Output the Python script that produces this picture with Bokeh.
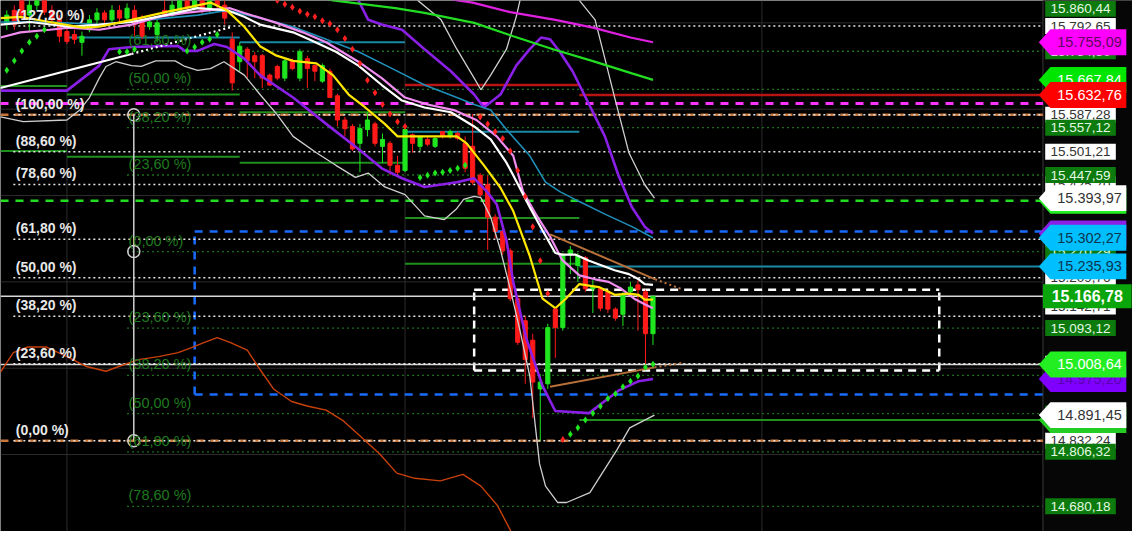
from bokeh.plotting import figure
from bokeh.models import Range1d, ColumnDataSource
from bokeh.core.properties import value
from bokeh.embed import file_html
from bokeh.resources import INLINE

# ---------------- candles (bar index = position) ----------------
bar_open = [15796, 15829, 15852, 15818, 15841, 15852, 15829, 15807, 15780, 15773,
            15755, 15784, 15807, 15823, 15807, 15829, 15811, 15829, 15807, 15791,
            15773, 15829, 15818, 15829, 15852, 15834, 15852, 15834, 15852, 15841,
            15762, 15710, 15739, 15724, 15724, 15679, 15699, 15672, 15712, 15672,
            15717, 15701, 15665, 15688, 15631, 15575, 15560, 15521, 15553, 15566,
            15514, 15521, 15470, 15458, 15541, 15514, 15530, 15514, 15548, 15537,
            15544, 15521, 15514, 15447, 15425, 15350, 15317, 15272, 15161, 15110,
            15065, 14952, 14964, 15137, 15094, 15263, 15238, 15256, 15184, 15184,
            15177, 15137, 15125, 15177, 15193, 15177, 15080]
bar_high = [15829, 15841, 15863, 15852, 15863, 15858, 15841, 15818, 15789, 15784,
            15780, 15818, 15834, 15829, 15841, 15841, 15845, 15841, 15818, 15807,
            15807, 15852, 15852, 15863, 15863, 15870, 15863, 15863, 15863, 15852,
            15778, 15755, 15744, 15733, 15728, 15683, 15703, 15717, 15717, 15739,
            15724, 15701, 15706, 15694, 15636, 15582, 15566, 15566, 15593, 15571,
            15544, 15526, 15492, 15560, 15544, 15537, 15535, 15537, 15548, 15553,
            15548, 15537, 15589, 15452, 15447, 15357, 15323, 15278, 15170, 15121,
            15080, 14986, 15103, 15141, 15267, 15283, 15267, 15260, 15204, 15188,
            15182, 15141, 15177, 15200, 15204, 15182, 15168]
bar_low = [15784, 15784, 15807, 15778, 15829, 15818, 15796, 15755, 15751, 15751,
           15724, 15778, 15796, 15796, 15802, 15802, 15807, 15769, 15762, 15784,
           15755, 15814, 15814, 15825, 15825, 15829, 15818, 15825, 15829, 15796,
           15643, 15688, 15672, 15672, 15649, 15654, 15667, 15665, 15690, 15665,
           15649, 15665, 15661, 15627, 15560, 15537, 15503, 15454, 15537, 15514,
           15476, 15447, 15447, 15454, 15499, 15503, 15514, 15510, 15532, 15532,
           15528, 15454, 15425, 15395, 15274, 15301, 15263, 15155, 15054, 14964,
           14885, 14832, 14952, 15024, 15087, 15218, 15200, 15177, 15128, 15132,
           15128, 15110, 15098, 15166, 15087, 15004, 15054]
bar_close = [15818, 15796, 15818, 15841, 15852, 15825, 15807, 15769, 15757, 15762,
             15769, 15807, 15823, 15807, 15829, 15811, 15834, 15796, 15769, 15802,
             15800, 15818, 15841, 15852, 15834, 15856, 15829, 15852, 15841, 15811,
             15661, 15746, 15712, 15710, 15672, 15656, 15672, 15712, 15694, 15733,
             15694, 15688, 15701, 15627, 15575, 15555, 15508, 15555, 15575, 15521,
             15530, 15470, 15454, 15553, 15521, 15537, 15519, 15532, 15537, 15548,
             15532, 15463, 15431, 15402, 15350, 15317, 15272, 15161, 15060, 15020,
             14968, 14968, 15094, 15094, 15263, 15274, 15260, 15184, 15188, 15139,
             15137, 15116, 15170, 15188, 15182, 15080, 15166.78]

# ---------------- indicator lines (bar, price) ----------------
yellow_x = [-0.84, 1.8, 5.7, 10.1, 12.3, 16.6, 21.1, 23.7, 27.1, 29.3, 31.6, 33.7, 35.9, 38.1, 41.2,
            43.4, 45.5, 47.7, 50.3, 52.0, 53.9, 57.3, 59.9, 61.2, 63.5, 65.7, 67.4, 69.6, 71.3, 73.0,
            74.4, 76.2, 78.8, 80.9, 82.8, 84.1, 84.9, 86.0]
yellow_y = [15811, 15814, 15802, 15789, 15791, 15807, 15825, 15834, 15847, 15829, 15791, 15746, 15724,
            15712, 15706, 15679, 15634, 15604, 15566, 15537, 15537, 15537, 15537, 15521, 15470, 15418,
            15364, 15260, 15161, 15139, 15161, 15195, 15188, 15170, 15173, 15170, 15159, 15159]
white_x = [-0.84, 3.1, 8.3, 12.3, 16.6, 21.1, 25.4, 29.3, 31.6, 33.7, 38.1, 40.2, 43.8, 46.8, 49.9,
           52.6, 55.6, 59.1, 62.2, 64.4, 66.5, 67.4, 69.6, 71.3, 73.0, 73.9, 75.7, 77.5, 79.2, 80.9,
           82.8, 84.1, 84.9, 86.0]
white_y = [15796, 15802, 15791, 15796, 15802, 15818, 15834, 15829, 15814, 15796, 15778, 15762, 15733,
           15701, 15656, 15620, 15604, 15593, 15560, 15530, 15476, 15447, 15373, 15319, 15267, 15263,
           15263, 15249, 15238, 15227, 15218, 15206, 15195, 15193]
pink_x = [-0.84, 1.8, 5.7, 8.3, 12.3, 16.6, 20.2, 23.7, 29.7, 31.6, 35.9, 39.4, 42.5, 46.8, 49.9,
          53.0, 56.0, 59.5, 62.5, 65.2, 67.4, 68.7, 70.4, 72.3, 73.9, 76.2, 78.3, 80.1, 81.8, 83.5,
          84.9, 86.0]
pink_y = [15766, 15778, 15784, 15789, 15784, 15796, 15814, 15823, 15834, 15823, 15800, 15778, 15755,
          15710, 15672, 15627, 15611, 15598, 15575, 15537, 15492, 15409, 15357, 15305, 15251, 15215,
          15206, 15200, 15184, 15161, 15148, 15139]
teal_x = [-0.84, 5.7, 12.3, 18.8, 25.4, 29.3, 33.7, 38.1, 42.5, 46.8, 51.3, 55.6, 59.9, 62.2, 64.4,
          66.5, 69.6, 71.7, 73.6, 76.2, 79.6, 83.2, 86.0]
teal_y = [15802, 15802, 15796, 15807, 15818, 15829, 15811, 15791, 15762, 15733, 15694, 15656, 15627,
          15611, 15598, 15553, 15492, 15431, 15409, 15386, 15357, 15328, 15302.27]
magenta_x = [57, 60, 62, 67, 73, 78, 83, 86]
magenta_y = [15863, 15852, 15847, 15825, 15807, 15789, 15766, 15755.09]
green_ma_x = [41.2, 43.4, 51.7, 55.6, 62.2, 67.4, 72.7, 77.9, 83.2, 86.0]
green_ma_y = [15863, 15852, 15834, 15823, 15800, 15769, 15739, 15712, 15683, 15667.84]
purple_lo_x = [-0.84, 8.0, 12.3, 13.6, 16.6, 20.2, 22.8, 23.7, 25.4, 27.6, 29.3, 31.6, 33.7, 38.1,
               42.5, 46.8, 49.9, 52.6, 55.6, 59.9, 62.2, 63.9, 65.2, 66.5, 67.4, 69.1, 71.3, 73.0,
               77.5, 79.2, 81.4, 84.1, 86.0]
purple_lo_y = [15643, 15643, 15701, 15739, 15744, 15746, 15746, 15735, 15735, 15751, 15744, 15717,
               15679, 15627, 15566, 15508, 15463, 15440, 15420, 15431, 15440, 15409, 15380, 15296,
               15200, 15071, 14959, 14901, 14896, 14919, 14948, 14970, 14975.20]
purple_up_x = [45.1, 46.8, 48.1, 49.9, 52.6, 55.6, 59.1, 62.2, 63.5, 65.7, 67.8, 69.6, 71.1, 72.3,
               73.6, 75.3, 77.5, 79.6, 81.4, 83.2, 84.9, 86.0]
purple_up_y = [15897, 15852, 15807, 15796, 15784, 15739, 15688, 15634, 15604, 15634, 15701, 15739,
               15766, 15762, 15733, 15688, 15611, 15537, 15447, 15373, 15328, 15312]
band_lo_x = [-0.84, 2.2, 8.0, 9.7, 11.0, 12.3, 13.2, 14.5, 16.6, 17.9, 19.8, 22.4, 23.7, 25.4, 27.1,
             28.9, 30.3, 31.6, 33.7, 35.9, 38.1, 41.2, 43.8, 46.4, 48.1, 50.3, 53.0, 55.6, 58.2,
             59.8, 60.8, 62.2, 63.1, 64.4, 65.7, 67.0, 68.3, 69.6, 70.9, 71.7, 73.3, 74.5, 77.6,
             81.2, 82.9, 84.7, 86.2]
band_lo_y = [15582, 15571, 15575, 15598, 15627, 15672, 15699, 15710, 15701, 15699, 15712, 15712, 15699,
             15690, 15694, 15710, 15694, 15679, 15634, 15589, 15537, 15499, 15470, 15442, 15452,
             15420, 15402, 15353, 15344, 15368, 15391, 15398, 15395, 15350, 15274, 15184, 15087,
             14982, 14779, 14727, 14689, 14689, 14712, 14811, 14862, 14878, 14891.45]
band_up_x = [53.6, 54.7, 57.8, 59.9, 62.2, 63.1, 64.4, 66.5, 67.8, 68.3, 69.0, 75.3, 76.2, 78.3,
             79.6, 80.9, 82.8, 84.9, 86.2]
band_up_y = [15897, 15852, 15807, 15739, 15672, 15645, 15679, 15739, 15814, 15852, 15886, 15886,
             15852, 15807, 15717, 15627, 15499, 15425, 15393.97]
osc_x = [-0.84, 0.87, 2.7, 5.3, 8.0, 10.6, 13.2, 14.9, 17.5, 20.2, 22.8, 24.5, 26.3, 28.0, 29.7,
         32.0, 33.7, 35.5, 37.9, 40.1, 42.5, 44.8, 47.2, 49.6, 51.9, 54.3, 57.7, 60.7, 63.1, 65.3,
         67.1, 68.1]
osc_y = [14991, 15036, 15049, 15049, 15027, 15004, 14993, 15004, 15020, 15027, 15036, 15047, 15060,
         15071, 15060, 15042, 14997, 14952, 14923, 14912, 14903, 14878, 14840, 14802, 14757, 14745,
         14739, 14754, 14727, 14682, 14622, 14593]
rise_x = [-0.84, 16.6]
rise_y = [15649, 15728]
rise_dot_x = [16.6, 30.0]
rise_dot_y = [15728, 15791]
trend_lo_x = [72.3, 86.2]
trend_lo_y = [14957, 15002]
trend_lo_ext_x = [86.2, 90.1]
trend_lo_ext_y = [15002, 15013]
trend_hi_x = [72.3, 86.3]
trend_hi_y = [15310, 15206]
trend_hi_ext_x = [86.3, 89.7]
trend_hi_ext_y = [15206, 15184]

sar_green_x = [0, 1, 2, 3, 4, 5, 15, 16, 17, 24, 25, 26, 27, 28, 55, 56, 57, 58, 59, 60, 61,
               75, 76, 77, 78, 79, 80, 81, 82, 83, 84, 85, 86]
sar_green_y = [15690, 15712, 15735, 15755, 15769, 15784, 15733, 15733, 15739, 15735, 15744, 15755,
               15762, 15773, 15442, 15447, 15452, 15454, 15458, 15463, 15470,
               14847, 14862, 14880, 14896, 14912, 14930, 14941, 14957, 14970, 14982, 15002, 15009]
sar_red_x = [36, 37, 38, 39, 40, 41, 42, 43, 44, 45, 46, 47, 48, 49, 50, 51, 52, 53,
             63, 64, 65, 66, 67, 68, 69, 70, 71, 72, 73, 74]
sar_red_y = [15852, 15843, 15836, 15827, 15820, 15814, 15805, 15798, 15784, 15764, 15739, 15706,
             15667, 15638, 15611, 15589, 15571, 15560,
             15582, 15566, 15548, 15532, 15503, 15458, 15398, 15328, 15249, 15173, 15132, 14835]

# ---------------- levels ----------------
fib_a_prices = [15792.65, 15587.28, 15501.21, 15425.70, 15298.89, 15209.76, 15120.66, 15010.43, 14832.24]
fib_a_labels = ["(127,20 %)", "(100,00 %)", "(88,60 %)", "(78,60 %)", "(61,80 %)", "(50,00 %)",
                "(38,20 %)", "(23,60 %)", "(0,00 %)"]
fib_a_anchor_bar = 16.9
fib_a_anchor_prices = [15587.28, 15270.29, 14832.24]
fib_b_prices = [15860.44, 15734.30, 15645.70, 15557.12, 15447.59, 15270.29, 15093.12, 14983.50,
                14894.90, 14806.32, 14680.18]
fib_b_labels = ["(78,60 %)", "(61,80 %)", "(50,00 %)", "(38,20 %)", "(23,60 %)", "(0,00 %)",
                "(23,60 %)", "(38,20 %)", "(50,00 %)", "(61,80 %)", "(78,60 %)"]
right_white_prices = [15792.65, 15587.28, 15501.21, 15425.70, 15298.89, 15209.76, 15142.71, 15010.43, 14832.24]

seg_green = [(-0.84, 8.0, 15654), (-0.84, 8.0, 15503), (8.0, 31.0, 15634), (8.0, 31.0, 15490),
             (31.0, 53.0, 15593), (31.0, 53.0, 15476), (53.0, 76.2, 15348), (53.0, 76.2, 15242),
             (76.2, 137.9, 14880)]
seg_teal = [(8.0, 31.0, 15766), (31.0, 53.0, 15755), (53.0, 76.2, 15548), (76.2, 137.9, 15235.93)]
seg_red = [(53.0, 76.2, 15656), (76.2, 137.9, 15632.76)]

magenta_level = 15613
brown_levels = [15587.28, 14832.24]
green_dash_level = 15388
blue_box = (25.0, 15317, 14939)
white_box = (62.2, 124.1, 15182, 14995)
white_solid_levels = [15166.78, 15008.64]
grid_prices = [15800, 15600, 15400, 15200, 15000, 14800]
grid_bars = [8.0, 53.0, 100.5]

tags = [(15755.09, "#ff00ff", "#5c0a5c"), (15667.84, "#00e600", "#ffffff"),
        (15632.76, "#ff0000", "#ffffff"), (15388.00, "#22ee22", "#ffffff"),
        (15393.97, "#ffffff", "#333333"), (15312.00, "#8a1fe6", "#ffffff"),
        (15302.27, "#00bfff", "#0a3550"), (15235.93, "#00bfff", "#0a3550"),
        (14975.20, "#8000ff", "#5a00b0"), (15008.64, "#22ee22", "#ffffff"),
        (14880.00, "#22cc22", "#ffffff"), (14891.45, "#ffffff", "#333333")]
last_price = 15166.78

X0, X1 = -0.84, 149.82
Y0, Y1 = 14621.8, 15851.8
END = 137.9
FONT = value("Liberation Sans")


def fmt(v):
    s = f"{v:,.2f}"
    return s.replace(",", "X").replace(".", ",").replace("X", ".")


p = figure(width=1132, height=531, x_range=Range1d(X0, X1), y_range=Range1d(Y0, Y1),
           x_axis_type=None, y_axis_type=None, toolbar_location=None, output_backend="svg",
           background_fill_color="#000000", border_fill_color="#000000", min_border=0)
p.outline_line_color = None

# right price panel
p.quad(left=END, right=X1 + 1, bottom=Y0 - 50, top=Y1 + 50, fill_color="#060606", line_color=None)
p.segment(x0=[END], y0=[Y0 - 50], x1=[END], y1=[Y1 + 50], line_color="#3a3a3a", line_width=1)

# grid
p.segment(x0=[X0] * len(grid_prices), y0=grid_prices, x1=[END] * len(grid_prices), y1=grid_prices,
          line_color="#2c2c2c", line_width=1)
p.segment(x0=grid_bars, y0=[Y0] * len(grid_bars), x1=grid_bars, y1=[Y1] * len(grid_bars),
          line_color="#2c2c2c", line_width=1)

# block segments
for segs, col, lw in [(seg_green, "#1f8f1f", 2), (seg_teal, "#1a8aa6", 2), (seg_red, "#b81414", 2.5)]:
    p.segment(x0=[s[0] for s in segs], y0=[s[2] for s in segs], x1=[s[1] for s in segs],
              y1=[s[2] for s in segs], line_color=col, line_width=lw)

# fib B (green) dotted
p.segment(x0=[16.0] * len(fib_b_prices), y0=fib_b_prices, x1=[END] * len(fib_b_prices), y1=fib_b_prices,
          line_color="#1d6e1d", line_width=1.3, line_dash="2 3")

# dashed lines
p.segment(x0=[X0], y0=[magenta_level], x1=[END], y1=[magenta_level], line_color="#ff33ff",
          line_width=3, line_dash="8 7")
p.segment(x0=[X0] * 2, y0=brown_levels, x1=[END] * 2, y1=brown_levels, line_color="#c8773a",
          line_width=2.5, line_dash="8 6")
p.segment(x0=[X0], y0=[green_dash_level], x1=[END], y1=[green_dash_level], line_color="#22dd22",
          line_width=2.5, line_dash="8 7")
bx, btop, bbot = blue_box
p.segment(x0=[bx, bx, bx], y0=[btop, bbot, bbot], x1=[END, END, bx], y1=[btop, bbot, btop],
          line_color="#1a6cff", line_width=2.5, line_dash="8 7")
wl, wr, wt, wb = white_box
p.segment(x0=[wl, wl, wl, wr], y0=[wt, wb, wb, wb], x1=[wr, wr, wl, wr], y1=[wt, wb, wt, wt],
          line_color="#ffffff", line_width=2.5, line_dash="8 6")

# white solid levels
p.segment(x0=[X0] * 2, y0=white_solid_levels, x1=[END] * 2, y1=white_solid_levels,
          line_color="#d8d8d8", line_width=1.3)

# fib A (white) dotted
p.segment(x0=[0.87] * len(fib_a_prices), y0=fib_a_prices, x1=[END] * len(fib_a_prices), y1=fib_a_prices,
          line_color="#e6e6e6", line_width=1.5, line_dash="2 3")

# oscillator
p.line(osc_x, osc_y, line_color="#c8400a", line_width=1.4)

# fib anchor
p.segment(x0=[fib_a_anchor_bar], y0=[fib_a_anchor_prices[0]], x1=[fib_a_anchor_bar],
          y1=[fib_a_anchor_prices[-1]], line_color="#d0d0d0", line_width=1.5)
p.scatter([fib_a_anchor_bar] * 3, fib_a_anchor_prices, marker="circle", size=12,
          fill_color=None, line_color="#d0d0d0", line_width=1.5)

# candles
idx = list(range(len(bar_close)))
cols = ["#1fe61f" if c >= o else "#ff1a1a" for o, c in zip(bar_open, bar_close)]
src = ColumnDataSource(dict(x=idx, h=bar_high, l=bar_low,
                            top=[max(o, c) for o, c in zip(bar_open, bar_close)],
                            bottom=[min(o, c) for o, c in zip(bar_open, bar_close)], col=cols))
p.segment(x0="x", y0="l", x1="x", y1="h", line_color="col", line_width=1, source=src)
p.vbar(x="x", width=0.55, top="top", bottom="bottom", fill_color="col", line_color="col", source=src)

# indicator lines
p.line(band_lo_x, band_lo_y, line_color="#cfcfcf", line_width=1.3)
p.line(band_up_x, band_up_y, line_color="#cfcfcf", line_width=1.3)
p.line(purple_lo_x, purple_lo_y, line_color="#8a1fe6", line_width=2.6)
p.line(purple_up_x, purple_up_y, line_color="#8a1fe6", line_width=2.6)
p.line(teal_x, teal_y, line_color="#1f8fb8", line_width=1.6)
p.line(magenta_x, magenta_y, line_color="#e020e0", line_width=2.2)
p.line(green_ma_x, green_ma_y, line_color="#22dd22", line_width=2.2)
p.line(pink_x, pink_y, line_color="#f08cf0", line_width=2.2)
p.line(white_x, white_y, line_color="#ffffff", line_width=2.2)
p.line(yellow_x, yellow_y, line_color="#ffe600", line_width=2.2)
p.line(rise_x, rise_y, line_color="#ffffff", line_width=2.2)
p.line(rise_dot_x, rise_dot_y, line_color="#ffffff", line_width=2.2, line_dash="2 3")
p.line(trend_lo_x, trend_lo_y, line_color="#b8703a", line_width=2)
p.line(trend_hi_x, trend_hi_y, line_color="#b8703a", line_width=2)
p.line(trend_lo_ext_x, trend_lo_ext_y, line_color="#b8703a", line_width=2, line_dash="2 3")
p.line(trend_hi_ext_x, trend_hi_ext_y, line_color="#b8703a", line_width=2, line_dash="2 3")

# SAR dots
p.scatter(sar_green_x, sar_green_y, marker="diamond", size=7, fill_color="#1fe61f", line_color=None)
p.scatter(sar_red_x, sar_red_y, marker="diamond", size=7, fill_color="#ff2020", line_color=None)

# fib labels (the top green label lies above the visible area, as in the reference)
p.text(x=[1.2] * len(fib_a_prices), y=fib_a_prices, text=fib_a_labels, text_font=FONT,
       text_font_size="14px", text_font_style="bold", text_color="#e8e8e8",
       text_align="left", text_baseline="bottom", y_offset=-3)
p.text(x=[16.2] * (len(fib_b_prices) - 1), y=fib_b_prices[1:], text=fib_b_labels[1:], text_font=FONT,
       text_font_size="14.5px", text_color="#1f7a1f", text_align="left", text_baseline="bottom",
       y_offset=-3)

# right small labels (kept inside the visible price range)
LX = 142.9
TOP_SAFE = Y1 - 19
white_pos = [min(v, TOP_SAFE) for v in right_white_prices]
green_pos = [min(v, TOP_SAFE) for v in fib_b_prices]
p.rect(x=[LX] * len(white_pos), y=white_pos, width=9.4, height=16,
       height_units="screen", fill_color="#ffffff", line_color=None)
p.text(x=[LX] * len(white_pos), y=white_pos, text=[fmt(v) for v in right_white_prices],
       text_font=FONT, text_font_size="13.5px", text_color="#333333", text_align="center",
       text_baseline="middle")
p.rect(x=[LX] * len(green_pos), y=green_pos, width=9.4, height=16,
       height_units="screen", fill_color="#0c7a0c", line_color=None)
p.text(x=[LX] * len(green_pos), y=green_pos, text=[fmt(v) for v in fib_b_prices],
       text_font=FONT, text_font_size="13.5px", text_color="#e2fbe2", text_align="center",
       text_baseline="middle")

# tags
HALF = 30
for price, fill, tcol in tags:
    p.patch([137.35, 138.9, 149.0, 149.0, 138.9],
            [price, price + HALF, price + HALF, price - HALF, price - HALF],
            fill_color=fill, line_color=None)
    p.text(x=[144.1], y=[price], text=[fmt(price)], text_font=FONT, text_font_size="14.5px",
           text_color=tcol, text_align="center", text_baseline="middle")

p.quad(left=[137.9], right=[149.7], bottom=[last_price - 28], top=[last_price + 28],
       fill_color="#0aa50a", line_color=None)
p.text(x=[143.8], y=[last_price], text=[fmt(last_price)], text_font=FONT, text_font_size="16px",
       text_font_style="bold", text_color="#ffffff", text_align="center", text_baseline="middle")

open("out.html", "w").write(file_html(p, INLINE))
